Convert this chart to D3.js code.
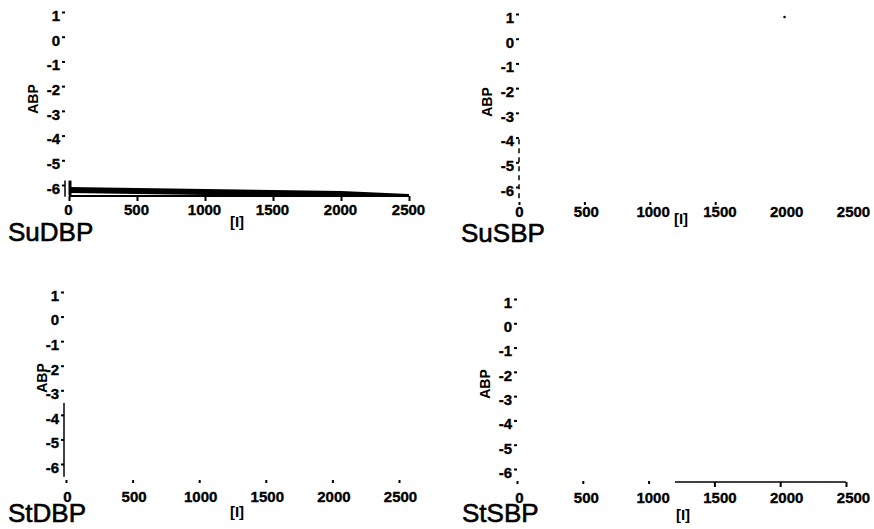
<!DOCTYPE html>
<html>
<head>
<meta charset="utf-8">
<script src="https://cdn.jsdelivr.net/npm/d3@7/dist/d3.min.js"></script>
<style>
  html, body { margin: 0; padding: 0; background: #fff; }
  svg { display: block; }
  .tick text { font-family: "Liberation Sans", Arial, sans-serif; font-weight: bold; font-size: 15px; fill: #000; stroke: #000; stroke-width: 0.35px; }
  .tick line { stroke: #000; stroke-width: 2; }
</style>
</head>
<body>
<svg id="chart" width="874" height="529"></svg>
<script>
// ---- data ----
const panelNames = ["SuDBP", "SuSBP", "StDBP", "StSBP"];
const xTicks = [0, 500, 1000, 1500, 2000, 2500];
const yTicks = [1, 0, -1, -2, -3, -4, -5, -6];
const xLabel = "[I]";
const yLabel = "ABP";

// SuDBP: dense band of responses hugging the bottom of the plot
const sudbpDose  = [0, 500, 1000, 1500, 2000, 2500];
const sudbpUpper = [-5.96, -6.0, -6.04, -6.08, -6.12, -6.24];
const sudbpLower = [-6.2, -6.24, -6.28, -6.28, -6.32, -6.36];

// SuSBP: single isolated reading
const susbpDose = [2030];
const susbpAbp  = [1.0];

// ---- layout of the four panels ----
// x0/x1: pixel span of 0..2500 for the ticks; lx0/lx1: span used for the tick labels
const layout = [
  { x0: 69,  x1: 409, lx0: 68,  lx1: 408, yTop: 15,  yBot: 188, axisX: 65,  tickY: 196, labelY: 210, titleX: 8,   titleY: 241, ix: 237, iy: 222, ax: 33,  ay: 99,
    yDomain: [-6.35, -5.7], xDomain: [0, 2500], solidTicks: xTicks, dotTicks: [] },
  { x0: 519, x1: 846, lx0: 519, lx1: 853, yTop: 17,  yBot: 190, axisX: 519, tickY: 203, labelY: 212, titleX: 461, titleY: 242, ix: 681, iy: 219, ax: 487, ay: 102,
    yDomain: [-6.45, -3.95], xDomain: null, solidTicks: [], dotTicks: [0, 500, 1000, 1500] },
  { x0: 66,  x1: 399, lx0: 67,  lx1: 400, yTop: 295, yBot: 467, axisX: 64,  tickY: 481, labelY: 497, titleX: 8,   titleY: 522, ix: 237, iy: 512, ax: 42,  ay: 378,
    yDomain: [-6.4, -3.4], xDomain: null, solidTicks: [], dotTicks: xTicks },
  { x0: 517, x1: 846, lx0: 519, lx1: 853, yTop: 302, yBot: 472, axisX: 517, tickY: 482, labelY: 498, titleX: 462, titleY: 522, ix: 683, iy: 515, ax: 485, ay: 384,
    yDomain: null, xDomain: [1200, 2500], solidTicks: [1500, 2000, 2500], dotTicks: [0, 500, 1000] }
];

const svg = d3.select("#chart");
const font = '"Liberation Sans", Arial, sans-serif';
const plain = d => String(d);   // hyphen-minus, as printed on the axes

layout.forEach((p, i) => {
  const x = d3.scaleLinear().domain([0, 2500]).range([p.x0, p.x1]);
  const xl = d3.scaleLinear().domain([0, 2500]).range([p.lx0, p.lx1]);
  const y = d3.scaleLinear().domain([-6, 1]).range([p.yBot, p.yTop]);
  const g = svg.append("g").attr("class", "panel");

  // y axis: labels with a short tick just above-right of each
  const ya = g.append("g")
    .attr("transform", `translate(${p.axisX},0)`)
    .call(d3.axisLeft(y).tickValues(yTicks).tickSize(3).tickPadding(2).tickFormat(plain));
  ya.select(".domain").remove();
  ya.selectAll(".tick line").attr("transform", "translate(0,-3)");
  ya.selectAll(".tick text").attr("dy", "0.36em");

  // visible stretch of the y axis line
  if (p.yDomain) {
    g.append("line")
      .attr("x1", p.axisX).attr("x2", p.axisX)
      .attr("y1", y(p.yDomain[1])).attr("y2", y(p.yDomain[0]))
      .attr("stroke", "#000").attr("stroke-width", 1.5)
      .attr("stroke-dasharray", i === 1 ? "5,4" : null);
  }

  // x axis: tick marks
  const xa = g.append("g")
    .attr("transform", `translate(0,${p.tickY})`)
    .call(d3.axisBottom(x).tickValues(xTicks).tickSize(5).tickFormat(() => ""));
  xa.select(".domain").remove();
  xa.selectAll(".tick line")
    .attr("y1", d => p.dotTicks.includes(d) ? -1 : 0)
    .attr("y2", d => p.dotTicks.includes(d) ? 2 : 5)
    .attr("stroke-width", d => p.dotTicks.includes(d) ? 2.5 : 2)
    .attr("opacity", d => (p.solidTicks.includes(d) || p.dotTicks.includes(d)) ? 1 : 0);

  // x axis: tick labels
  const xt = g.append("g")
    .attr("transform", `translate(0,${p.labelY})`)
    .call(d3.axisBottom(xl).tickValues(xTicks).tickSize(0).tickPadding(0).tickFormat(plain));
  xt.select(".domain").remove();
  xt.selectAll(".tick text").attr("y", 0).attr("dy", "0.36em");

  if (p.xDomain) {
    g.append("line")
      .attr("x1", x(p.xDomain[0])).attr("x2", x(p.xDomain[1]))
      .attr("y1", p.tickY).attr("y2", p.tickY)
      .attr("stroke", "#000").attr("stroke-width", i === 0 ? 2 : 1.5);
  }

  // series
  if (i === 0) {
    const band = sudbpDose.map((d, k) => ({ d, hi: sudbpUpper[k], lo: sudbpLower[k] }));
    g.append("path")
      .datum(band)
      .attr("fill", "#000")
      .attr("d", d3.area().x(v => x(v.d)).y0(v => y(v.lo)).y1(v => y(v.hi)));
    // short vertical stub at the origin
    g.append("line")
      .attr("x1", x(0) + 1).attr("x2", x(0) + 1)
      .attr("y1", y(-5.7)).attr("y2", y(-6.3))
      .attr("stroke", "#000").attr("stroke-width", 3);
  }
  if (i === 1) {
    g.selectAll("circle.pt")
      .data(susbpDose.map((d, k) => ({ d, v: susbpAbp[k] })))
      .join("circle")
      .attr("class", "pt")
      .attr("cx", v => x(v.d)).attr("cy", v => y(v.v))
      .attr("r", 1.3).attr("fill", "#000");
  }

  // axis titles
  g.append("text")
    .attr("transform", `translate(${p.ax},${p.ay}) rotate(-90)`)
    .attr("text-anchor", "middle").attr("dy", "0.36em")
    .attr("font-family", font).attr("font-weight", "bold").attr("font-size", 14)
    .text(yLabel);
  g.append("text")
    .attr("x", p.ix).attr("y", p.iy).attr("dy", "0.36em")
    .attr("text-anchor", "middle")
    .attr("font-family", font).attr("font-weight", "bold").attr("font-size", 15)
    .text(xLabel);

  // panel name
  g.append("text")
    .attr("x", p.titleX).attr("y", p.titleY)
    .attr("font-family", font).attr("font-size", 26)
    .attr("stroke", "#000").attr("stroke-width", 0.6)
    .text(panelNames[i]);
});
</script>
</body>
</html>
